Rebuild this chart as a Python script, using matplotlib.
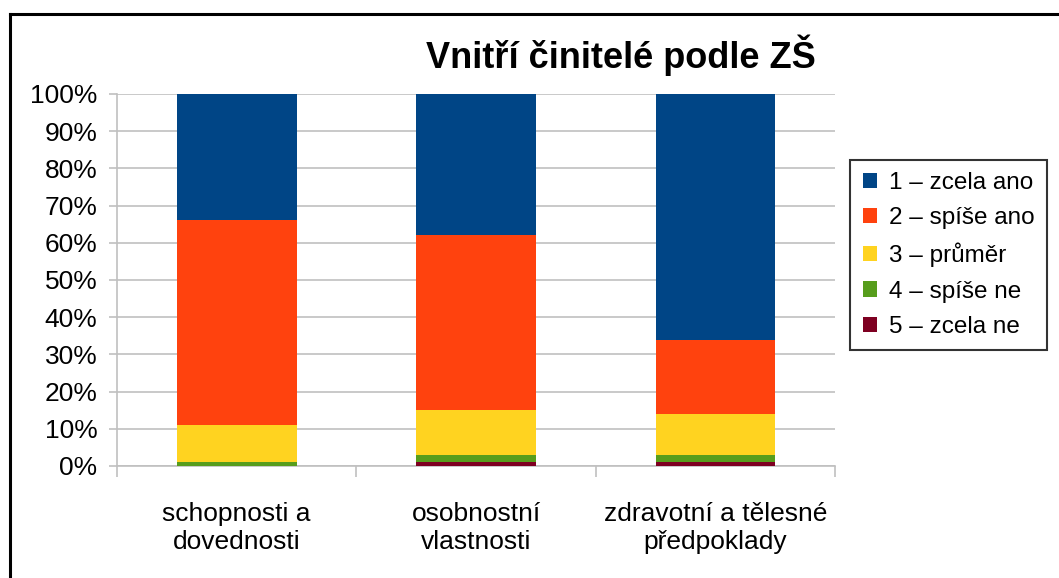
import matplotlib.pyplot as plt
from matplotlib.lines import Line2D
import numpy as np

plt.rcParams['font.family'] = ['Liberation Sans', 'DejaVu Sans']

categories = ['schopnosti a\ndovednosti', 'osobnostní\nvlastnosti', 'zdravotní a tělesné\npředpoklady']
series_names = ['1 – zcela ano', '2 – spíše ano', '3 – průměr', '4 – spíše ne', '5 – zcela ne']
zcela_ano = [34, 38, 66]
spise_ano = [55, 47, 20]
prumer = [10, 12, 11]
spise_ne = [1, 2, 2]
zcela_ne = [0, 1, 1]
colors = ['#004586', '#ff420e', '#ffd320', '#579d1c', '#7e0021']

fig = plt.figure(figsize=(10.59, 5.78), dpi=100)
ax = fig.add_axes([0.1105, 0.1938, 0.678, 0.6436])

x = np.arange(len(categories))
stack = [zcela_ne, spise_ne, prumer, spise_ano, zcela_ano]
stack_colors = colors[::-1]
stack_names = series_names[::-1]
bottom = np.zeros(len(categories))
handles = {}
for vals, c, name in zip(stack, stack_colors, stack_names):
    b = ax.bar(x, vals, bottom=bottom, width=0.5, color=c, zorder=3, label=name)
    handles[name] = b
    bottom += np.array(vals)

ax.set_xlim(-0.5, 2.5)
ax.set_ylim(0, 100)
ax.set_yticks(np.arange(0, 101, 10))
ax.set_yticklabels(['%d%%' % v for v in range(0, 101, 10)], fontsize=19)
ax.yaxis.grid(True, color='#c0c0c0', linewidth=1.2, zorder=0)

ax.set_xticks([-0.5, 0.5, 1.5, 2.5])
ax.set_xticklabels([])
ax.set_xticks(x, minor=True)
ax.set_xticklabels(categories, minor=True, fontsize=19, linespacing=1.18)
ax.tick_params(axis='x', which='minor', length=0, pad=26)
ax.tick_params(axis='x', which='major', length=8, color='#c0c0c0', width=1.2)
ax.tick_params(axis='y', length=6, color='#c0c0c0', width=1.2, pad=8)

for s in ['top', 'right']:
    ax.spines[s].set_visible(False)
for s in ['left', 'bottom']:
    ax.spines[s].set_color('#c0c0c0')
    ax.spines[s].set_linewidth(1.2)

fig.text(0.586, 0.905, 'Vnitří činitelé podle ZŠ', fontsize=26, fontweight='bold',
         ha='center', va='center')

leg = fig.legend([handles[n] for n in series_names], series_names,
                 loc='center left', bbox_to_anchor=(0.803, 0.559), fontsize=17.5,
                 frameon=True, fancybox=False, edgecolor='black',
                 handlelength=0.6, handleheight=0.6, handletextpad=0.5,
                 labelspacing=0.55, borderpad=0.5, borderaxespad=0)
leg.get_frame().set_linewidth(1.5)

fig.add_artist(Line2D([0.009, 0.009], [0, 0.976], color='black', linewidth=2.2))
fig.add_artist(Line2D([0.009, 1], [0.976, 0.976], color='black', linewidth=2.2))

fig.savefig('out.png', dpi=100)
